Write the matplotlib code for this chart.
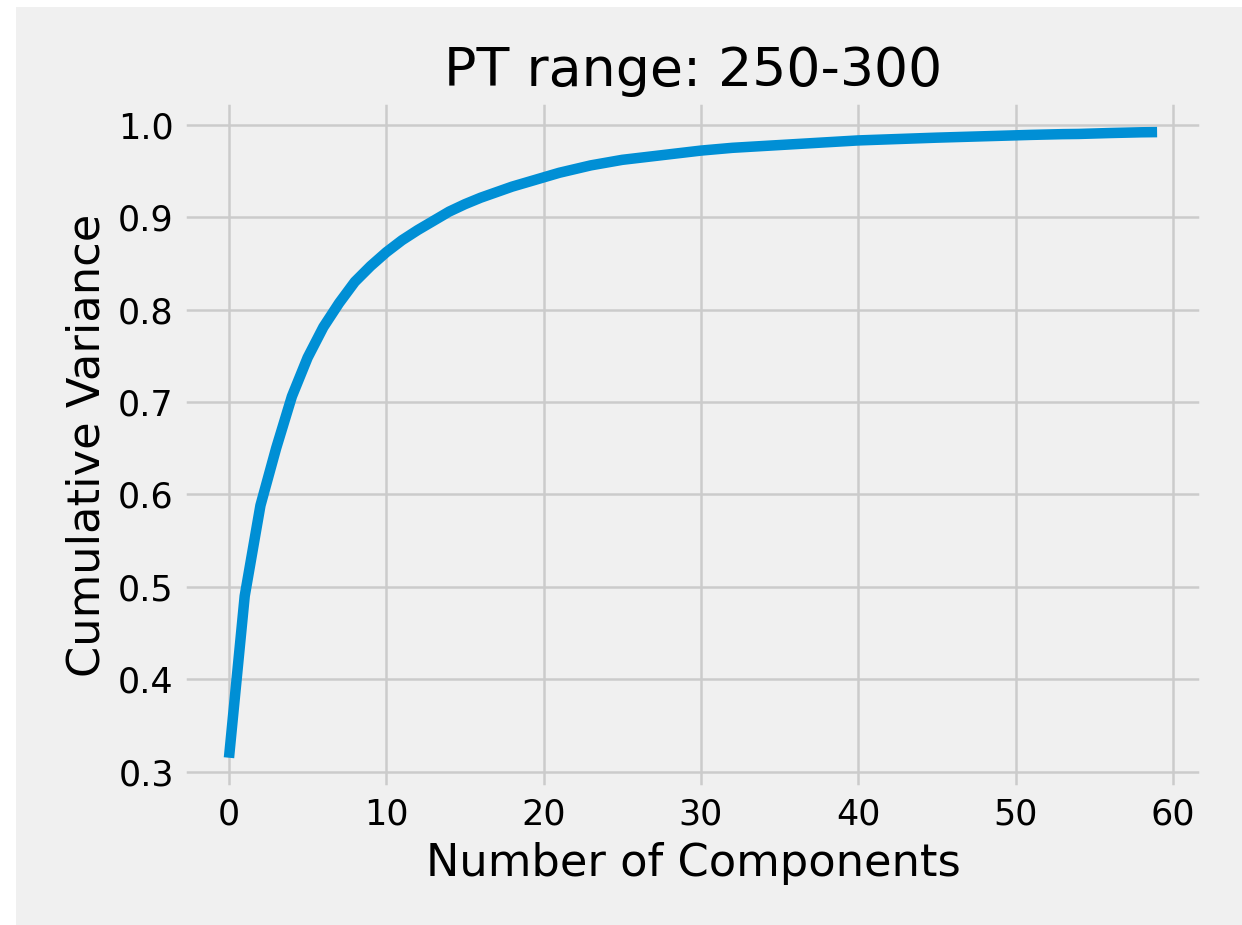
import matplotlib
matplotlib.use('Agg')
import matplotlib.pyplot as plt
from matplotlib.patches import Rectangle

# cumulative explained variance per component
n_components = list(range(60))
cum_variance = [
    0.315, 0.490, 0.588, 0.650, 0.706, 0.748, 0.781, 0.807, 0.830, 0.847,
    0.862, 0.875, 0.886, 0.896, 0.906, 0.914, 0.921, 0.927, 0.933, 0.938,
    0.943, 0.948, 0.952, 0.956, 0.959, 0.962, 0.964, 0.966, 0.968, 0.970,
    0.972, 0.9735, 0.975, 0.976, 0.977, 0.978, 0.979, 0.980, 0.981, 0.982,
    0.983, 0.9836, 0.9842, 0.9848, 0.9854, 0.986, 0.9865, 0.987, 0.9875, 0.988,
    0.9885, 0.989, 0.9894, 0.9898, 0.990, 0.9905, 0.991, 0.9914, 0.9918, 0.992,
]

plt.style.use('fivethirtyeight')

fig = plt.figure(figsize=(1242 / 180, 925 / 180), dpi=180)
fig.patch.set_facecolor('white')
# grey background, leaving the thin white strip on the top and left
fig.patches.append(Rectangle((16 / 1242, 0), 1 - 16 / 1242, 1 - 7 / 925,
                             transform=fig.transFigure, facecolor='#f0f0f0',
                             edgecolor='none', zorder=-1))

ax = fig.add_axes([0.147, 0.147, 0.822, 0.744])
ax.plot(n_components, cum_variance, linewidth=4.2)
ax.set_title('PT range: 250-300', fontsize=21.5)
ax.set_xlabel('Number of Components', fontsize=17.9)
ax.set_ylabel('Cumulative Variance', fontsize=17.9)

fig.savefig('out.png', dpi=180, facecolor=fig.get_facecolor())
